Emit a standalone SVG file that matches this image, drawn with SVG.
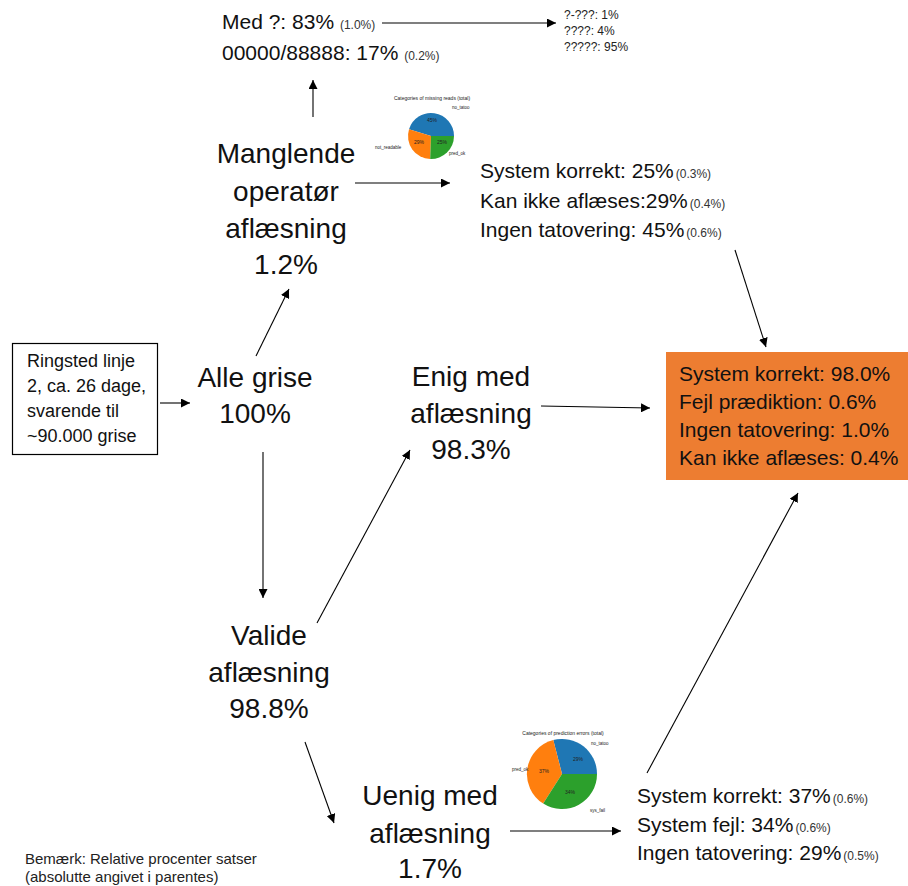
<svg xmlns="http://www.w3.org/2000/svg" width="908" height="886" viewBox="0 0 908 886">
<defs>
<marker id="ah" viewBox="0 0 10 10" refX="10" refY="5" markerWidth="9" markerHeight="9" markerUnits="userSpaceOnUse" orient="auto">
<path d="M0,0 L10,5 L0,10 Z" fill="#000"/>
</marker>
<style>
text{font-family:"Liberation Sans",Arial,sans-serif;fill:#111}
.big{font-size:28px;text-anchor:middle}
.mid{font-size:21px}
.sm{font-size:12px;fill:#333}
.tiny{font-size:12px;fill:#222}
.box{font-size:18px}
.note{font-size:15px;fill:#222}
.pt{font-size:5px;fill:#222}
.pl{font-size:4.5px;fill:#222}
.conn line{stroke:#000;stroke-width:1.1;marker-end:url(#ah)}
</style>
</defs>
<rect width="908" height="886" fill="#fff"/>

<g class="conn" id="connectors">
<line x1="382" y1="23" x2="556" y2="23"/>
<line x1="313" y1="117" x2="313" y2="80"/>
<line x1="355" y1="183" x2="450" y2="183"/>
<line x1="735" y1="250" x2="766" y2="347"/>
<line x1="160" y1="403" x2="190" y2="403"/>
<line x1="256" y1="356" x2="289" y2="289"/>
<line x1="263" y1="452" x2="263" y2="598"/>
<line x1="317" y1="623" x2="410" y2="450"/>
<line x1="541" y1="406" x2="650" y2="408"/>
<line x1="305" y1="742" x2="334" y2="823"/>
<line x1="510" y1="831" x2="621" y2="831"/>
<line x1="647" y1="773" x2="798" y2="493"/>
</g>

<g id="top-detail">
<text class="mid" x="222" y="29">Med ?: 83% <tspan class="sm">(1.0%)</tspan></text>
<text class="mid" x="222" y="60">00000/88888: 17% <tspan class="sm">(0.2%)</tspan></text>
</g>
<g id="top-breakdown">
<text class="tiny" x="564" y="19">?-???: 1%</text>
<text class="tiny" x="564" y="35">????: 4%</text>
<text class="tiny" x="564" y="51">?????: 95%</text>
</g>

<g id="pie-missing">
<text class="pt" x="432" y="100" text-anchor="middle">Categories of missing reads (total)</text>
<path d="M431,136 L454,136 A23,23 0 0 0 409.0,129.3 Z" fill="#1f77b4"/>
<path d="M431,136 L409.0,129.3 A23,23 0 0 0 430.2,159.0 Z" fill="#ff7f0e"/>
<path d="M431,136 L430.2,159.0 A23,23 0 0 0 454,136 Z" fill="#2ca02c"/>
<text class="pt" x="432" y="122" text-anchor="middle">45%</text>
<text class="pt" x="419" y="144" text-anchor="middle">29%</text>
<text class="pt" x="442" y="144" text-anchor="middle">25%</text>
<text class="pl" x="452" y="109">no_tatoo</text>
<text class="pl" x="375" y="149">not_readable</text>
<text class="pl" x="449" y="155">pred_ok</text>
</g>

<g id="manglende">
<text class="big" x="286" y="163">Manglende</text>
<text class="big" x="286" y="201">operatør</text>
<text class="big" x="286" y="238">aflæsning</text>
<text class="big" x="286" y="274">1.2%</text>
</g>

<g id="missing-breakdown">
<text class="mid" x="480" y="178">System korrekt: 25%<tspan class="sm" dx="2">(0.3%)</tspan></text>
<text class="mid" x="480" y="208">Kan ikke aflæses:29%<tspan class="sm" dx="2">(0.4%)</tspan></text>
<text class="mid" x="480" y="237">Ingen tatovering: 45%<tspan class="sm" dx="2">(0.6%)</tspan></text>
</g>

<g id="source">
<rect x="12.5" y="343.5" width="145" height="111" fill="#fff" stroke="#000" stroke-width="1.2"/>
<text class="box" x="27" y="367">Ringsted linje</text>
<text class="box" x="27" y="392">2, ca. 26 dage,</text>
<text class="box" x="27" y="417">svarende til</text>
<text class="box" x="27" y="442">~90.000 grise</text>
</g>

<g id="alle">
<text class="big" x="255" y="387">Alle grise</text>
<text class="big" x="255" y="423">100%</text>
</g>

<g id="enig">
<text class="big" x="471" y="386">Enig med</text>
<text class="big" x="471" y="423">aflæsning</text>
<text class="big" x="471" y="459">98.3%</text>
</g>

<g id="result">
<rect x="666" y="352" width="242" height="128" fill="#ed7d31"/>
<text class="mid" x="679" y="381">System korrekt: 98.0%</text>
<text class="mid" x="679" y="409">Fejl prædiktion: 0.6%</text>
<text class="mid" x="679" y="437">Ingen tatovering: 1.0%</text>
<text class="mid" x="679" y="465">Kan ikke aflæses: 0.4%</text>
</g>

<g id="valide">
<text class="big" x="269" y="645">Valide</text>
<text class="big" x="269" y="682">aflæsning</text>
<text class="big" x="269" y="718">98.8%</text>
</g>

<g id="pie-errors">
<text class="pt" x="563" y="735" text-anchor="middle">Categories of prediction errors (total)</text>
<path d="M562,774 L597,774 A35,35 0 0 0 553.3,740.1 Z" fill="#1f77b4"/>
<path d="M562,774 L553.3,740.1 A35,35 0 0 0 543.2,803.6 Z" fill="#ff7f0e"/>
<path d="M562,774 L543.2,803.6 A35,35 0 0 0 597,774 Z" fill="#2ca02c"/>
<text class="pt" x="578" y="761" text-anchor="middle">29%</text>
<text class="pt" x="544" y="773" text-anchor="middle">37%</text>
<text class="pt" x="570" y="794" text-anchor="middle">34%</text>
<text class="pl" x="591" y="745">no_tatoo</text>
<text class="pl" x="512" y="771">pred_ok</text>
<text class="pl" x="590" y="812">sys_fail</text>
</g>

<g id="uenig">
<text class="big" x="430" y="805">Uenig med</text>
<text class="big" x="430" y="843">aflæsning</text>
<text class="big" x="430" y="878">1.7%</text>
</g>

<g id="error-breakdown">
<text class="mid" x="637" y="803">System korrekt: 37%<tspan class="sm" dx="2">(0.6%)</tspan></text>
<text class="mid" x="637" y="832">System fejl: 34%<tspan class="sm" dx="2">(0.6%)</tspan></text>
<text class="mid" x="637" y="860">Ingen tatovering: 29%<tspan class="sm" dx="2">(0.5%)</tspan></text>
</g>

<g id="note">
<text class="note" x="25" y="864">Bemærk: Relative procenter satser</text>
<text class="note" x="25" y="882">(absolutte angivet i parentes)</text>
</g>
</svg>
